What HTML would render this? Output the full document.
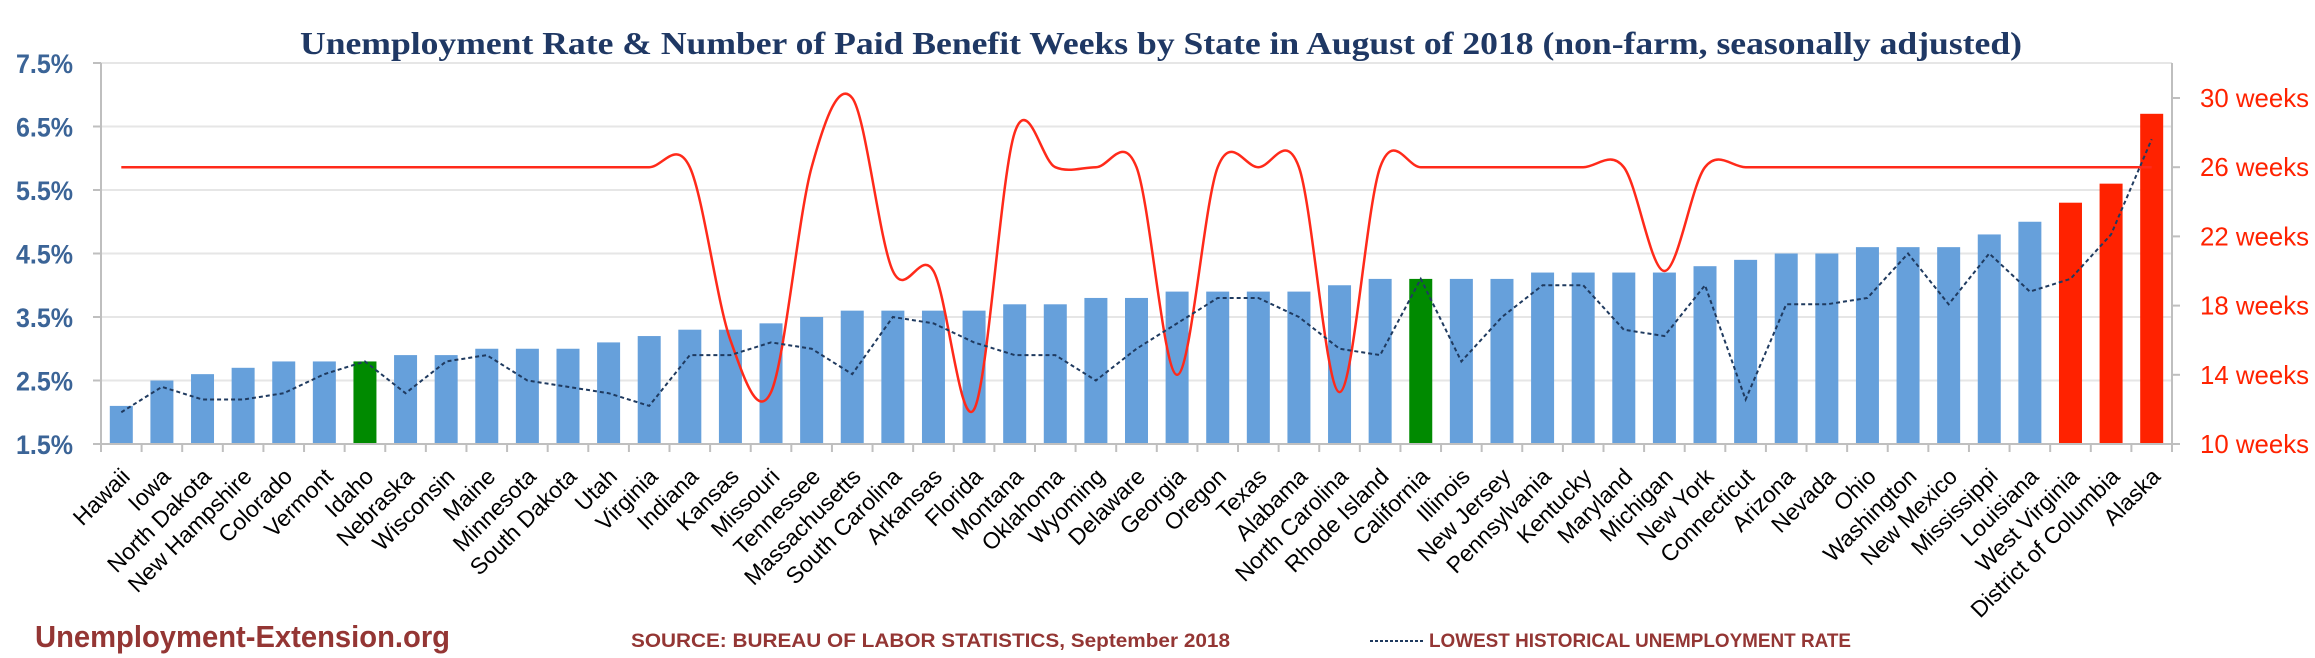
<!DOCTYPE html>
<html><head><meta charset="utf-8"><style>
html,body{margin:0;padding:0;background:#fff;}
svg{display:block;font-family:"Liberation Sans",sans-serif;}
</style></head><body>
<svg id="chart" width="2315" height="658" viewBox="0 0 2315 658" xmlns="http://www.w3.org/2000/svg">
<text x="1161" y="54" text-anchor="middle" font-family="Liberation Serif, serif" font-weight="bold" font-size="32" fill="#1f3864" textLength="1722" lengthAdjust="spacingAndGlyphs">Unemployment Rate &amp; Number of Paid Benefit Weeks by State in August of 2018 (non-farm, seasonally adjusted)</text>
<g id="grid"></g>
<g id="bars"></g>
<g id="lines"></g>
<g id="axes"></g>
<g id="xlabels"></g>
<text x="35" y="647" font-weight="bold" font-size="31" fill="#943634" textLength="415" lengthAdjust="spacingAndGlyphs">Unemployment-Extension.org</text>
<text x="631" y="647" font-weight="bold" font-size="19" fill="#943634" textLength="599" lengthAdjust="spacingAndGlyphs">SOURCE: BUREAU OF LABOR STATISTICS, September 2018</text>
<line x1="1370" y1="641" x2="1424" y2="641" stroke="#1f3a5f" stroke-width="2" stroke-dasharray="3,2"/>
<text x="1429" y="647" font-weight="bold" font-size="19" fill="#943634" textLength="422" lengthAdjust="spacingAndGlyphs">LOWEST HISTORICAL UNEMPLOYMENT RATE</text>
</svg>
<script>
const states = ["Hawaii","Iowa","North Dakota","New Hampshire","Colorado","Vermont","Idaho","Nebraska","Wisconsin","Maine","Minnesota","South Dakota","Utah","Virginia","Indiana","Kansas","Missouri","Tennessee","Massachusetts","South Carolina","Arkansas","Florida","Montana","Oklahoma","Wyoming","Delaware","Georgia","Oregon","Texas","Alabama","North Carolina","Rhode Island","California","Illinois","New Jersey","Pennsylvania","Kentucky","Maryland","Michigan","New York","Connecticut","Arizona","Nevada","Ohio","Washington","New Mexico","Mississippi","Louisiana","West Virginia","District of Columbia","Alaska"];
const rates = [2.1,2.5,2.6,2.7,2.8,2.8,2.8,2.9,2.9,3.0,3.0,3.0,3.1,3.2,3.3,3.3,3.4,3.5,3.6,3.6,3.6,3.6,3.7,3.7,3.8,3.8,3.9,3.9,3.9,3.9,4.0,4.1,4.1,4.1,4.1,4.2,4.2,4.2,4.2,4.3,4.4,4.5,4.5,4.6,4.6,4.6,4.8,5.0,5.3,5.6,6.7];
const lowestRates = [2.0,2.4,2.2,2.2,2.3,2.6,2.8,2.3,2.8,2.9,2.5,2.4,2.3,2.1,2.9,2.9,3.1,3.0,2.6,3.5,3.4,3.1,2.9,2.9,2.5,3.0,3.4,3.8,3.8,3.5,3.0,2.9,4.1,2.8,3.5,4.0,4.0,3.3,3.2,4.0,2.2,3.7,3.7,3.8,4.5,3.7,4.5,3.9,4.1,4.8,6.3];
const benefitWeeks = [26,26,26,26,26,26,26,26,26,26,26,26,26,26,26,16,13,26,30,20,20,12,28,26,26,26,14,26,26,26,13,26,26,26,26,26,26,26,20,26,26,26,26,26,26,26,26,26,26,26,26];
const highlight = ["","","","","","","green","","","","","","","","","","","","","","","","","","","","","","","","","","green","","","","","","","","","","","","","","","","red","red","red"];
const rateTicks = [1.5,2.5,3.5,4.5,5.5,6.5,7.5];
const rateTickLabels = ["1.5%","2.5%","3.5%","4.5%","5.5%","6.5%","7.5%"];
const weekTicks = [10,14,18,22,26,30];
const weekTickLabels = ["10 weeks","14 weeks","18 weeks","22 weeks","26 weeks","30 weeks"];

const NS="http://www.w3.org/2000/svg";
const L=101,R=2172,T=63,B=444;
const slot=(R-L)/states.length;
const yR=v=>B-(v-1.5)/(7.5-1.5)*(B-T);
const yW=v=>B-(v-10)*17.3;
const xC=i=>L+(i+0.5)*slot;
function mk(tag,attrs,parent){const e=document.createElementNS(NS,tag);for(const k in attrs)e.setAttribute(k,attrs[k]);parent.appendChild(e);return e;}
const grid=document.getElementById('grid'),bars=document.getElementById('bars'),lines=document.getElementById('lines'),axes=document.getElementById('axes'),xl=document.getElementById('xlabels');

rateTicks.forEach((t,i)=>{
  if(i>0){const g=mk('line',{x1:L,x2:R,y1:yR(t),y2:yR(t),stroke:'#e6e6e6','stroke-width':2},grid);
  
  }
  const tk=mk('line',{x1:L-8,x2:L,y1:yR(t),y2:yR(t),stroke:'#bfbfbf','stroke-width':2},axes);
  
  
  const tx=mk('text',{x:73,y:yR(t)+10,'text-anchor':'end','font-weight':'bold','font-size':27,fill:'#3b6497',textLength:57,lengthAdjust:'spacingAndGlyphs'},axes);
  tx.textContent=rateTickLabels[i];
  
  
});
weekTicks.forEach((t,i)=>{
  const tk=mk('line',{x1:R,x2:R+8,y1:yW(t),y2:yW(t),stroke:'#bfbfbf','stroke-width':2},axes);
  
  
  const tx=mk('text',{x:2200,y:yW(t)+9,'font-size':26,fill:'#ff2200',textLength:109,lengthAdjust:'spacingAndGlyphs'},axes);
  tx.textContent=weekTickLabels[i];
  
  
});
const la=mk('line',{x1:L,x2:L,y1:T,y2:B,stroke:'#bfbfbf','stroke-width':2},axes);


const ra=mk('line',{x1:R,x2:R,y1:T,y2:B,stroke:'#bfbfbf','stroke-width':2},axes);


const xa=mk('line',{x1:L-8,x2:R,y1:B,y2:B,stroke:'#bfbfbf','stroke-width':2},axes);



const colors={"":"#66a0db",green:"#008a00",red:"#ff2200"};
states.forEach((s,i)=>{
  const bw=23,y=yR(rates[i]);
  const b=mk('rect',{x:xC(i)-bw/2,y:y,width:bw,height:B-y,fill:colors[highlight[i]]},bars);
  
  
  const tk=mk('line',{x1:L+i*slot,x2:L+i*slot,y1:B,y2:B+8,stroke:'#bfbfbf','stroke-width':2},axes);
  
  
  const cx=xC(i)+10,cy=478;
  const t=mk('text',{x:cx,y:cy,'text-anchor':'end','font-size':23,fill:'#000',transform:`rotate(-45 ${cx} ${cy})`},xl);
  t.textContent=s;
  
  
});
const tk2=mk('line',{x1:R,x2:R,y1:B,y2:B+8,stroke:'#bfbfbf','stroke-width':2},axes);



const pts=benefitWeeks.map((w,i)=>[xC(i),yW(w)]);
let d=`M${pts[0][0]},${pts[0][1]}`;
for(let i=0;i<pts.length-1;i++){
  const p0=pts[Math.max(0,i-1)],p1=pts[i],p2=pts[i+1],p3=pts[Math.min(pts.length-1,i+2)];
  const k=1/6;
  d+=` C${p1[0]+(p2[0]-p0[0])*k},${p1[1]+(p2[1]-p0[1])*k} ${p2[0]-(p3[0]-p1[0])*k},${p2[1]-(p3[1]-p1[1])*k} ${p2[0]},${p2[1]}`;
}
const wl=mk('path',{d:d,fill:'none',stroke:'#ff2a1a','stroke-width':2.5},lines);


const lowD=lowestRates.map((v,i)=>(i?'L':'M')+xC(i)+','+yR(v)).join(' ');
const ll=mk('path',{d:lowD,fill:'none',stroke:'#1f3a5f','stroke-width':2,'stroke-dasharray':'4,3'},lines);


</script>
</body></html>
